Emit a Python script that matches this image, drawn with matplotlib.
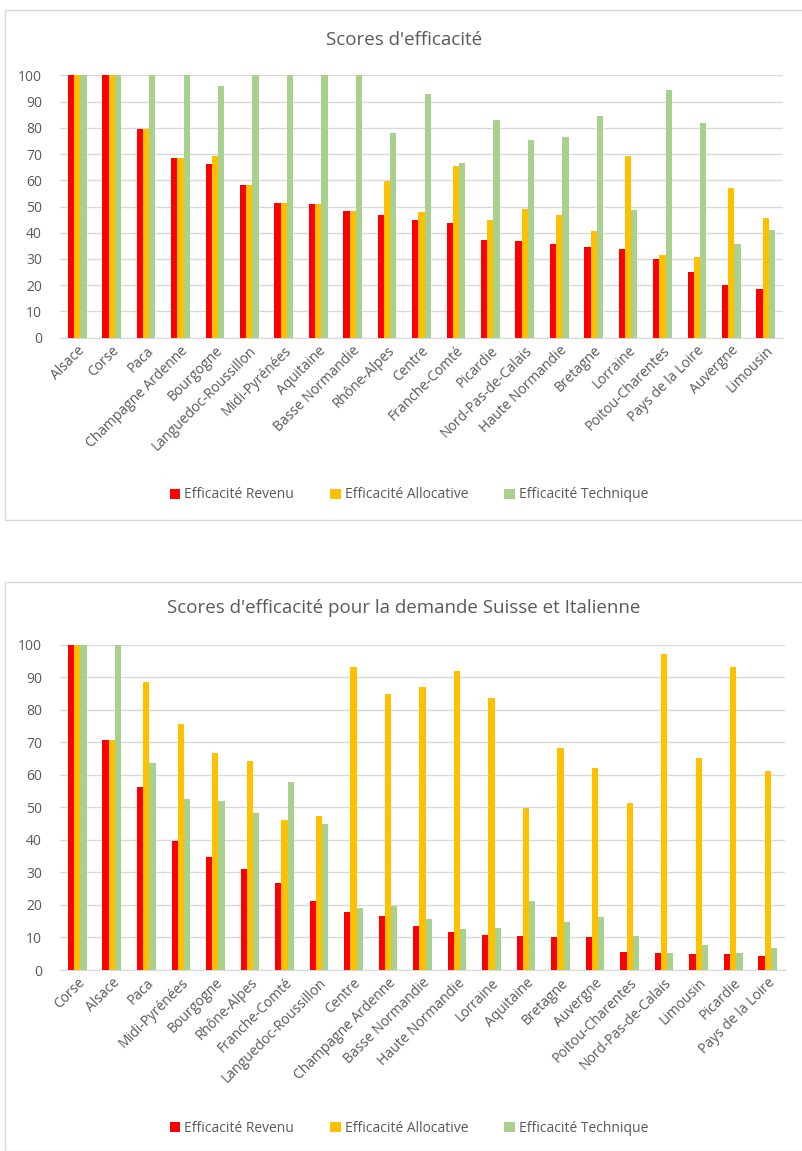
import matplotlib
matplotlib.use("Agg")
import matplotlib.pyplot as plt
import numpy as np
from matplotlib.patches import Rectangle

plt.rcParams['font.family'] = ['Open Sans', 'DejaVu Sans']

series_names = ["Efficacité Revenu", "Efficacité Allocative", "Efficacité Technique"]
colors = ["#FF0000", "#FFC000", "#A9D18E"]

title1 = "Scores d'efficacité"
regions1 = ["Alsace", "Corse", "Paca", "Champagne Ardenne", "Bourgogne", "Languedoc-Roussillon",
            "Midi-Pyrénées", "Aquitaine", "Basse Normandie", "Rhône-Alpes", "Centre", "Franche-Comté",
            "Picardie", "Nord-Pas-de-Calais", "Haute Normandie", "Bretagne", "Lorraine",
            "Poitou-Charentes", "Pays de la Loire", "Auvergne", "Limousin"]
revenu1 = [100, 100, 79.4, 68.4, 66.2, 58.2, 51.3, 50.8, 48.3, 46.8, 44.7, 43.6, 37.2, 37.0,
           35.7, 34.4, 33.8, 29.9, 25.0, 20.2, 18.6]
alloc1 = [100, 100, 79.4, 68.4, 69.1, 58.2, 51.3, 50.8, 48.3, 59.8, 48.0, 65.4, 44.9, 49.0,
          46.8, 40.7, 69.3, 31.5, 30.7, 57.1, 45.5]
tech1 = [100, 100, 100, 100, 95.9, 100, 100, 100, 100, 78.0, 93.0, 66.7, 83.0, 75.5,
         76.5, 84.6, 48.7, 94.4, 81.7, 35.7, 41.0]

title2 = "Scores d'efficacité pour la demande Suisse et Italienne"
regions2 = ["Corse", "Alsace", "Paca", "Midi-Pyrénées", "Bourgogne", "Rhône-Alpes", "Franche-Comté",
            "Languedoc-Roussillon", "Centre", "Champagne Ardenne", "Basse Normandie", "Haute Normandie",
            "Lorraine", "Aquitaine", "Bretagne", "Auvergne", "Poitou-Charentes", "Nord-Pas-de-Calais",
            "Limousin", "Picardie", "Pays de la Loire"]
revenu2 = [100, 70.6, 56.4, 39.7, 34.6, 31.0, 26.6, 21.2, 17.8, 16.6, 13.5, 11.6, 10.8, 10.5,
           10.2, 10.2, 5.4, 5.2, 5.0, 5.0, 4.2]
alloc2 = [100, 70.6, 88.6, 75.5, 66.6, 64.2, 46.2, 47.3, 93.1, 84.8, 87.0, 91.9, 83.5, 49.8,
          68.1, 62.2, 51.3, 97.2, 65.2, 93.2, 61.1]
tech2 = [100, 100, 63.6, 52.5, 51.9, 48.3, 57.7, 44.8, 19.2, 19.7, 15.6, 12.6, 12.9, 21.2,
         14.8, 16.2, 10.5, 5.2, 7.7, 5.2, 6.9]

W, H = 803, 1151
fig = plt.figure(figsize=(W / 100, H / 100), dpi=100)
TXT = "#595959"
GRID = "#D9D9D9"


def fx(px):
    return px / W


def fy(py):
    return 1 - py / H


def draw(box, ax_box, title, title_y, legend_y, cats, vals):
    bx0, by0, bx1, by1 = box
    fig.patches.append(Rectangle((fx(bx0), fy(by1)), fx(bx1 - bx0), (by1 - by0) / H,
                                 transform=fig.transFigure, fill=False,
                                 edgecolor=GRID, linewidth=1.0, zorder=0))
    x0, y0, x1, y1 = ax_box
    ax = fig.add_axes([fx(x0), fy(y1), fx(x1 - x0), (y1 - y0) / H])
    n = len(cats)
    x = np.arange(n)
    bw = 0.18
    for i, (v, c, name) in enumerate(zip(vals, colors, series_names)):
        ax.bar(x + (i - 1) * bw, v, width=bw, color=c, label=name, zorder=3)
    ax.set_xlim(-0.5, n - 0.5)
    ax.set_ylim(0, 100)
    ax.set_yticks(np.arange(0, 101, 10))
    ax.yaxis.grid(True, color=GRID, linewidth=1.0, zorder=0)
    ax.set_axisbelow(True)
    for s in ["top", "right", "left"]:
        ax.spines[s].set_visible(False)
    ax.spines["bottom"].set_color(GRID)
    ax.tick_params(axis="both", length=0, colors=TXT, labelsize=10)
    ax.tick_params(axis="y", pad=13)
    ax.set_xticks(x)
    ax.set_xticklabels(cats, rotation=45, ha="right", rotation_mode="anchor", color=TXT, fontsize=10)
    ax.tick_params(axis="x", pad=4)
    fig.text(0.5 * (fx(bx0) + fx(bx1)), fy(title_y), title, ha="center", va="center",
             fontsize=13.5, color=TXT)
    handles, labels = ax.get_legend_handles_labels()
    fig.legend(handles, labels, loc="center", bbox_to_anchor=(fx(409), fy(legend_y)), ncol=3,
               frameon=False, fontsize=10, labelcolor=TXT, handlelength=0.75, handleheight=0.75,
               handletextpad=0.3, columnspacing=2.6)
    return ax


draw((5, 10, 803, 520), (60, 75.3, 783, 337.7), title1, 40, 495,
     regions1, [revenu1, alloc1, tech1])
draw((5, 582, 803, 1151), (60, 644.7, 785, 970), title2, 608, 1128,
     regions2, [revenu2, alloc2, tech2])

fig.savefig("out.png", dpi=100)
